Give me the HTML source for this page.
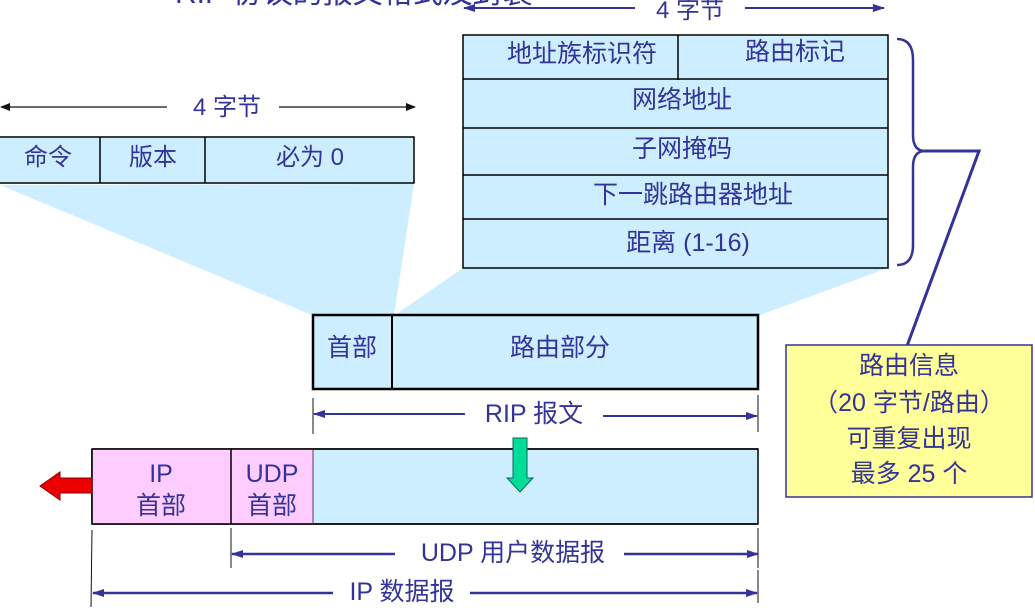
<!DOCTYPE html>
<html><head><meta charset="utf-8"><style>
html,body{margin:0;padding:0;background:#fff;}
svg{display:block;}
text{font-family:"Liberation Sans","Noto Sans CJK SC",sans-serif;fill:#333399;}
</style></head><body>
<svg width="1035" height="611" viewBox="0 0 1035 611" xmlns="http://www.w3.org/2000/svg">
<defs>
<marker id="ab" markerWidth="10" markerHeight="8" refX="9" refY="4" orient="auto-start-reverse" markerUnits="userSpaceOnUse"><path d="M0,0 L10,4 L0,8 z" fill="#111"/></marker>
<marker id="au" markerWidth="12" markerHeight="8" refX="11" refY="4" orient="auto-start-reverse" markerUnits="userSpaceOnUse"><path d="M0,0 L12,4 L0,8 z" fill="#333399"/></marker>
</defs>
<!-- cut title -->
<text x="175" y="3" font-size="30" fill="#3333cc">RIP 协议的报文格式及封装</text>
<!-- fans -->
<polygon points="0,185 414,184 394,315 312,315" fill="#cceeff"/>
<polygon points="463,268 888,268 760,315 395,315" fill="#cceeff"/>
<!-- left 4 byte arrow -->
<line x1="1" y1="107" x2="167" y2="107" stroke="#111" stroke-width="1.3" marker-start="url(#ab)"/>
<line x1="279" y1="107" x2="415" y2="107" stroke="#111" stroke-width="1.3" marker-end="url(#ab)"/>
<text x="227" y="115" font-size="24" text-anchor="middle">4 字节</text>
<!-- header box -->
<rect x="-2" y="137" width="416" height="46" fill="#cceeff" stroke="#000" stroke-width="1.5"/>
<line x1="100" y1="137" x2="100" y2="183" stroke="#000" stroke-width="1.5"/>
<line x1="205" y1="137" x2="205" y2="183" stroke="#000" stroke-width="1.5"/>
<text x="48" y="165" font-size="24" text-anchor="middle">命令</text>
<text x="153" y="165" font-size="24" text-anchor="middle">版本</text>
<text x="310" y="165" font-size="24" text-anchor="middle">必为 0</text>
<!-- top 4 byte arrow -->
<line x1="464" y1="8" x2="635" y2="8" stroke="#333399" stroke-width="2" marker-start="url(#au)"/>
<line x1="745" y1="8" x2="884" y2="8" stroke="#333399" stroke-width="2" marker-end="url(#au)"/>
<text x="690" y="18" font-size="24" text-anchor="middle">4 字节</text>
<!-- route entry box -->
<rect x="463" y="35" width="425" height="233" fill="#cceeff" stroke="#000" stroke-width="1.5"/>
<line x1="463" y1="79" x2="888" y2="79" stroke="#000" stroke-width="1.5"/>
<line x1="463" y1="128" x2="888" y2="128" stroke="#000" stroke-width="1.5"/>
<line x1="463" y1="175" x2="888" y2="175" stroke="#000" stroke-width="1.5"/>
<line x1="463" y1="219" x2="888" y2="219" stroke="#000" stroke-width="1.5"/>
<line x1="678" y1="35" x2="678" y2="80" stroke="#000" stroke-width="1.5"/>
<text x="582" y="62" font-size="25" text-anchor="middle">地址族标识符</text>
<text x="795" y="60" font-size="25" text-anchor="middle">路由标记</text>
<text x="682" y="108" font-size="25" text-anchor="middle">网络地址</text>
<text x="682" y="157" font-size="25" text-anchor="middle">子网掩码</text>
<text x="693" y="203" font-size="25" text-anchor="middle">下一跳路由器地址</text>
<text x="688" y="251" font-size="25" text-anchor="middle">距离 (1-16)</text>
<!-- brace -->
<path d="M897,39 Q913,39 913,60 L913,135 Q913,151 925,151 Q913,151 913,167 L913,245 Q913,265 897,265" fill="none" stroke="#333399" stroke-width="2.5"/>
<polyline points="921,151 979,151 907,346" fill="none" stroke="#333399" stroke-width="3"/>
<!-- yellow box -->
<rect x="786" y="345" width="246" height="152" fill="#ffff99" stroke="#333399" stroke-width="1.5"/>
<text x="909" y="374" font-size="25" text-anchor="middle">路由信息</text>
<text x="909" y="411" font-size="25" text-anchor="middle">（20 字节/路由）</text>
<text x="909" y="447" font-size="25" text-anchor="middle">可重复出现</text>
<text x="909" y="482" font-size="25" text-anchor="middle">最多 25 个</text>
<!-- RIP box -->
<rect x="313" y="315" width="445" height="74" fill="#cceeff" stroke="#000" stroke-width="2.5"/>
<line x1="392" y1="315" x2="392" y2="389" stroke="#000" stroke-width="2"/>
<text x="352" y="356" font-size="25" text-anchor="middle">首部</text>
<text x="560" y="356" font-size="25" text-anchor="middle">路由部分</text>
<!-- RIP arrow -->
<line x1="313" y1="398" x2="313" y2="434" stroke="#111" stroke-width="1"/>
<line x1="758" y1="395" x2="758" y2="432" stroke="#111" stroke-width="1"/>
<line x1="314" y1="414" x2="465" y2="414" stroke="#333399" stroke-width="2" marker-start="url(#au)"/>
<line x1="603" y1="416" x2="757" y2="416" stroke="#333399" stroke-width="2" marker-end="url(#au)"/>
<text x="534" y="422" font-size="25" text-anchor="middle">RIP 报文</text>
<!-- IP datagram -->
<rect x="92" y="449" width="666" height="75" fill="#cceeff" stroke="#000" stroke-width="1.5"/>
<rect x="92.7" y="449.7" width="220" height="73.6" fill="#ffccff"/>
<line x1="92" y1="449" x2="758" y2="449" stroke="#000" stroke-width="1.5"/>
<line x1="92" y1="524" x2="758" y2="524" stroke="#000" stroke-width="1.5"/>
<line x1="92" y1="449" x2="92" y2="524" stroke="#000" stroke-width="1.5"/>
<line x1="231" y1="449" x2="231" y2="524" stroke="#000" stroke-width="1.5"/>
<line x1="313" y1="450" x2="313" y2="524" stroke="#663366" stroke-width="1"/>
<text x="161" y="482" font-size="25" text-anchor="middle">IP</text>
<text x="161" y="514" font-size="25" text-anchor="middle">首部</text>
<text x="272" y="482" font-size="25" text-anchor="middle">UDP</text>
<text x="272" y="514" font-size="25" text-anchor="middle">首部</text>
<!-- green arrow -->
<polygon points="513,438 527,438 527,478 533,478 520,492 507,478 513,478" fill="#00dd99" stroke="#116655" stroke-width="1"/>
<!-- red arrow -->
<polygon points="92,478 60,478 60,472 40,486 60,500 60,493 92,493" fill="#ee0000" stroke="#880000" stroke-width="1"/>
<!-- UDP arrow -->
<line x1="231" y1="528" x2="231" y2="568" stroke="#111" stroke-width="1"/>
<line x1="758" y1="528" x2="758" y2="568" stroke="#111" stroke-width="1"/>
<line x1="232" y1="554" x2="395" y2="554" stroke="#333399" stroke-width="2.5" marker-start="url(#au)"/>
<line x1="624" y1="554" x2="758" y2="554" stroke="#333399" stroke-width="2.5" marker-end="url(#au)"/>
<text x="513" y="561" font-size="25" text-anchor="middle">UDP 用户数据报</text>
<!-- IP arrow -->
<line x1="92" y1="530" x2="91" y2="607" stroke="#111" stroke-width="1"/>
<line x1="758" y1="570" x2="758" y2="603" stroke="#111" stroke-width="1"/>
<line x1="93" y1="593" x2="333" y2="593" stroke="#333399" stroke-width="2.5" marker-start="url(#au)"/>
<line x1="470" y1="593" x2="757" y2="593" stroke="#333399" stroke-width="2.5" marker-end="url(#au)"/>
<text x="402" y="600" font-size="25" text-anchor="middle">IP 数据报</text>
</svg>
</body></html>
